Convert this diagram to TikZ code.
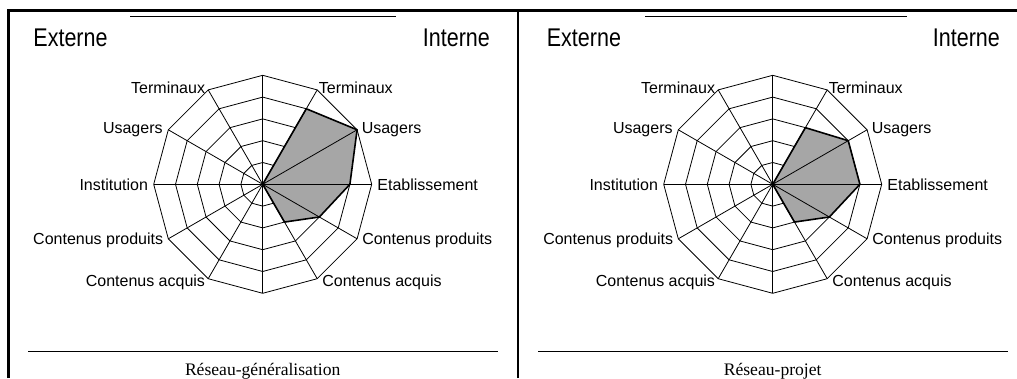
\documentclass[tikz,border=0pt]{standalone}
\usepackage{fontspec}
\setsansfont{Liberation Sans}
\newfontfamily\capfont{Liberation Serif}
\usetikzlibrary{positioning}

\begin{document}
\begin{tikzpicture}[
			x=1pt, y=1pt,
			grid/.style={line width=0.8pt},
			frame/.style={line width=2.4pt},
			rule/.style={line width=1pt},
			score/.style={fill=black!35},
			scoreline/.style={line width=1.6pt, line join=round},
			lbl/.style={font=\sffamily\fontsize{16}{16}\selectfont, inner sep=0pt, text height=11.5pt, text depth=0pt},
			side/.style={font=\sffamily\fontsize{25.6}{26}\selectfont, xscale=0.84, inner sep=0pt},
			caption/.style={font=\capfont\fontsize{17.6}{18}\selectfont, inner sep=0pt}
			]
			\useasboundingbox (0,0) rectangle (1017,378);
			\draw[frame] (8.3,0) -- (8.3,367.3) -- (1020,367.3);
			\draw[frame] (517.7,0) -- (517.7,367.3);
			\draw[rule] (130,361.3) -- (396,361.3);
			\draw[rule] (645,361.3) -- (907,361.3);
			\draw[rule] (28,27) -- (498,27);
			\draw[rule] (538,27) -- (1008,27);
			\node[side, anchor=base west] (gen-ext) at (33.3,331.3) {Externe};
			\node[side, anchor=base east] (gen-int) at (490,331.3) {Interne};
			\node[side, anchor=base west] (prj-ext) at (546.7,331.3) {Externe};
			\node[side, anchor=base east] (prj-int) at (1000,331.3) {Interne};
			\node[caption, anchor=base] (gen-cap) at (262.7,3) {Réseau-généralisation};
			\node[caption, anchor=base] (prj-cap) at (772.7,3) {Réseau-projet};
			\foreach \p/\cx/\vt/\vu in {gen/262.7/4/5, prj/772.7/3/4} {
				\begin{scope}[shift={(\cx,193.7)}]
					\foreach \k in {1,...,5}
						\draw[grid] ({0}:{\k*21.8}) \foreach \a in {30,60,...,330} { -- ({\a}:{\k*21.8}) } -- cycle;
					\fill[score] (0,0) -- ({60}:{\vt*21.8}) -- ({30}:{\vu*21.8}) -- (0:87.2) -- (-30:65.4) -- (-60:43.6) -- cycle;
					\foreach \a in {0,30,...,330} {
						\coordinate (\p-\a) at (\a:109);
						\draw[grid] (0,0) -- (\p-\a);
					}
					\draw[scoreline] (0,0) -- ({60}:{\vt*21.8}) -- ({30}:{\vu*21.8}) -- (0:87.2) -- (-30:65.4) -- (-60:43.6) -- cycle;
				\end{scope}
				\node[lbl, right=1.5pt of \p-60, yshift=2pt] (\p-tr) {Terminaux};
				\node[lbl, left=3pt of \p-120, yshift=2pt] (\p-tl) {Terminaux};
				\node[lbl, right=4.5pt of \p-30, yshift=2.5pt] (\p-ur) {Usagers};
				\node[lbl, left=5.5pt of \p-150, yshift=2.5pt] (\p-ul) {Usagers};
				\node[lbl, right=5.5pt of \p-0] (\p-er) {Etablissement};
				\node[lbl, left=5.5pt of \p-180] (\p-il) {Institution};
				\node[lbl, right=5pt of \p-330] (\p-cpr) {Contenus produits};
				\node[lbl, left=5pt of \p-210] (\p-cpl) {Contenus produits};
				\node[lbl, right=5pt of \p-300, yshift=-2pt] (\p-car) {Contenus acquis};
				\node[lbl, left=3pt of \p-240, yshift=-2pt] (\p-cal) {Contenus acquis};
			}
		\end{tikzpicture}
\end{document}
